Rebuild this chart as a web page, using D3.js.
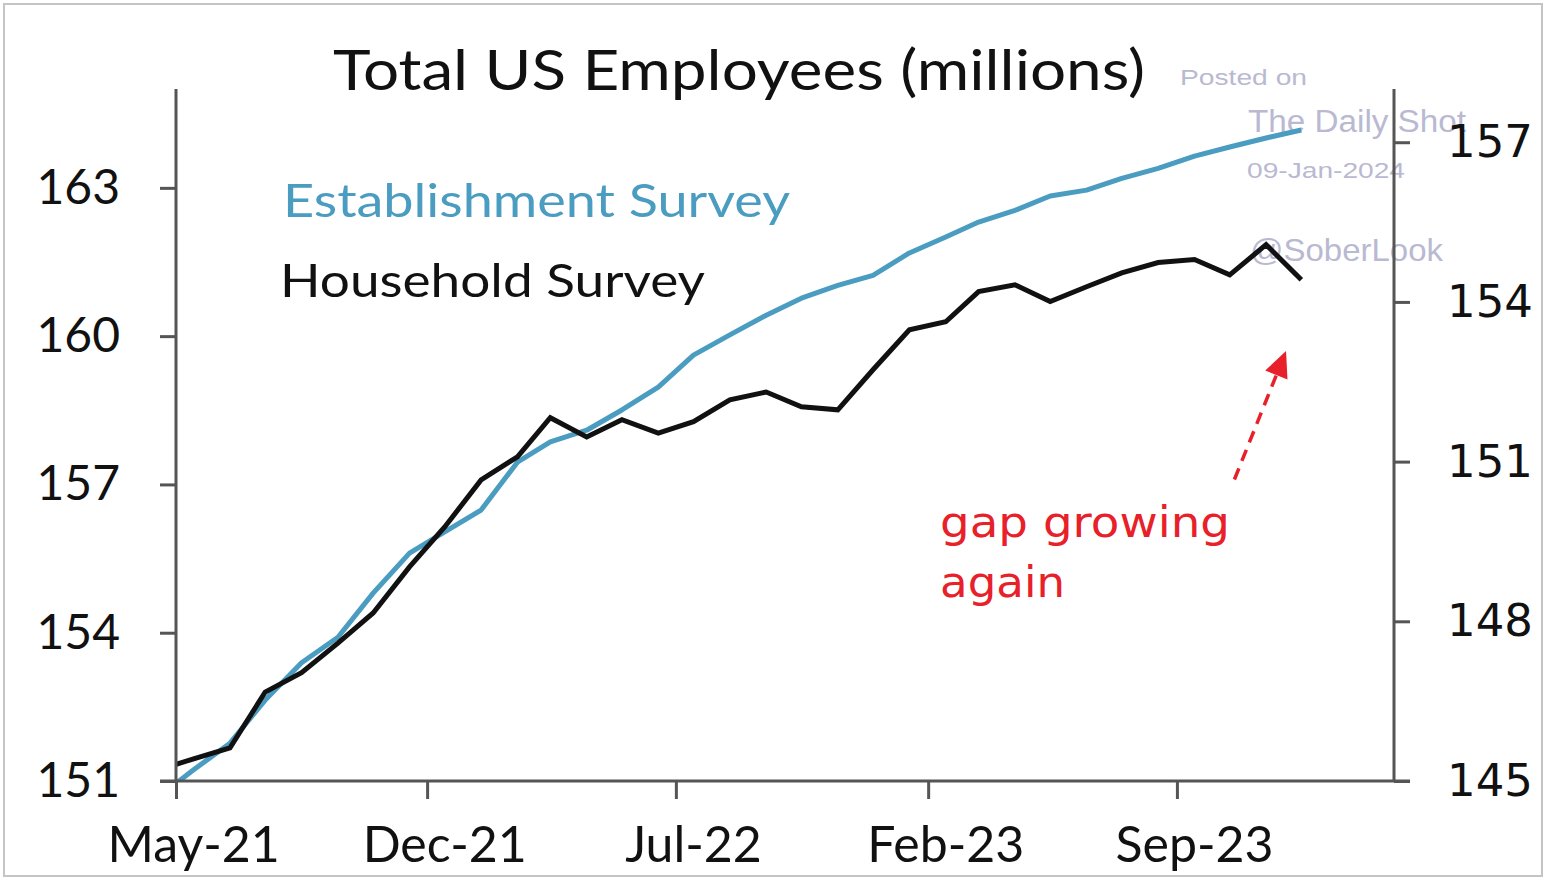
<!DOCTYPE html>
<html>
<head>
<meta charset="utf-8">
<script src="https://cdn.jsdelivr.net/npm/d3@7"></script>
<style>
  html, body { margin: 0; padding: 0; background: #fff; }
  svg { display: block; }
</style>
</head>
<body>
<svg id="chart" width="1546" height="880"></svg>
<script>
// ---------------- data ----------------
const months = [
  "2021-04","2021-05","2021-06","2021-07","2021-08","2021-09","2021-10","2021-11","2021-12",
  "2022-01","2022-02","2022-03","2022-04","2022-05","2022-06","2022-07","2022-08","2022-09",
  "2022-10","2022-11","2022-12","2023-01","2023-02","2023-03","2023-04","2023-05","2023-06",
  "2023-07","2023-08","2023-09","2023-10","2023-11","2023-12"
];
// Household survey (left axis, millions)
const household = [
  151.22,151.45,151.67,152.80,153.19,153.79,154.40,155.33,156.14,
  157.09,157.56,158.35,157.96,158.31,158.04,158.27,158.71,158.87,
  158.57,158.51,159.32,160.13,160.29,160.90,161.04,160.70,161.00,
  161.28,161.49,161.55,161.24,161.85,161.14
];
// Establishment survey (right axis, millions)
const establishment = [
  144.70,145.21,145.71,146.52,147.22,147.70,148.53,149.28,149.68,
  150.09,150.99,151.37,151.59,151.97,152.40,153.00,153.38,153.75,
  154.07,154.31,154.50,154.92,155.22,155.50,155.72,155.99,156.10,
  156.32,156.51,156.74,156.91,157.08,157.23
];
const leftTicks = [151, 154, 157, 160, 163];
const rightTicks = [145, 148, 151, 154, 157];
const xTickMonths = ["2021-05", "2021-12", "2022-07", "2023-02", "2023-09"];
const xTickLabels = ["May-21", "Dec-21", "Jul-22", "Feb-23", "Sep-23"];

// ---------------- layout ----------------
const svg = d3.select("#chart");
const L = 176, R = 1394, T = 89, B = 781;
const parseM = d3.timeParse("%Y-%m");
const midMonth = m => d3.timeDay.offset(parseM(m), 15);

const x = d3.scaleTime()
  .domain([parseM("2021-05"), new Date(2024, 2, 4)])
  .range([L, R]);
const yL = d3.scaleLinear().domain([151, 165]).range([B, T]);
const yR = d3.scaleLinear().domain([145, 158]).range([B, T]);

const axisColor = "#555";
const blue = "#4a9cc0";
const red = "#e8202a";
const wm = "#b9b9d2";

// outer frame
svg.append("rect").attr("x", 4).attr("y", 4).attr("width", 1538).attr("height", 872)
  .attr("fill", "none").attr("stroke", "#c4c4c4").attr("stroke-width", 2);

// clip
svg.append("clipPath").attr("id", "plotclip")
  .append("rect").attr("x", L).attr("y", T).attr("width", R - L).attr("height", B - T);

// watermark
const wmg = svg.append("g").attr("font-family", "Liberation Sans, Arial, sans-serif").attr("fill", wm);
wmg.append("text").attr("x", 1180).attr("y", 85).attr("font-size", 22).text("Posted on")
  .attr("textLength", 127).attr("lengthAdjust", "spacingAndGlyphs");
wmg.append("text").attr("x", 1248).attr("y", 132).attr("font-size", 31).text("The Daily Shot")
  .attr("textLength", 218).attr("lengthAdjust", "spacingAndGlyphs");
wmg.append("text").attr("x", 1247).attr("y", 178).attr("font-size", 22).text("09-Jan-2024")
  .attr("textLength", 158).attr("lengthAdjust", "spacingAndGlyphs");
wmg.append("text").attr("x", 1250).attr("y", 261).attr("font-size", 32).text("@SoberLook")
  .attr("textLength", 193).attr("lengthAdjust", "spacingAndGlyphs");

// lines
const lineL = d3.line().x((d, i) => x(midMonth(months[i]))).y(d => yL(d));
const lineR = d3.line().x((d, i) => x(midMonth(months[i]))).y(d => yR(d));
const lines = svg.append("g").attr("clip-path", "url(#plotclip)");
lines.append("path").datum(establishment).attr("d", lineR)
  .attr("fill", "none").attr("stroke", blue).attr("stroke-width", 5)
  .attr("stroke-linejoin", "round");
lines.append("path").datum(household).attr("d", lineL)
  .attr("fill", "none").attr("stroke", "#111").attr("stroke-width", 5)
  .attr("stroke-linejoin", "miter");

// axes
const gL = svg.append("g").attr("transform", `translate(${L},0)`)
  .call(d3.axisLeft(yL).tickValues(leftTicks).tickSize(16).tickPadding(40).tickFormat(d3.format("d")));
const gR = svg.append("g").attr("transform", `translate(${R},0)`)
  .call(d3.axisRight(yR).tickValues(rightTicks).tickSize(16).tickPadding(37).tickFormat(d3.format("d")));
const gX = svg.append("g").attr("transform", `translate(0,${B})`)
  .call(d3.axisBottom(x).tickValues(xTickMonths.map(parseM)).tickSize(18).tickFormat(""));

[gL, gR, gX].forEach(g => {
  g.select(".domain").remove();
  g.selectAll(".tick line").attr("stroke", axisColor).attr("stroke-width", 3);
});
gL.selectAll(".tick text").attr("font-family", "Lato, sans-serif").attr("font-size", 48).attr("fill", "#111");
gR.selectAll(".tick text").attr("font-family", "DejaVu Sans, sans-serif").attr("font-size", 45).attr("fill", "#111");

// axis lines
svg.append("line").attr("x1", L).attr("x2", L).attr("y1", T).attr("y2", B + 2)
  .attr("stroke", axisColor).attr("stroke-width", 3);
svg.append("line").attr("x1", R).attr("x2", R).attr("y1", T).attr("y2", B)
  .attr("stroke", axisColor).attr("stroke-width", 3);
svg.append("line").attr("x1", L - 16).attr("x2", R + 16).attr("y1", B).attr("y2", B)
  .attr("stroke", axisColor).attr("stroke-width", 3);

// x labels (centered mid-month)
svg.append("g").selectAll("text").data(xTickMonths).join("text")
  .attr("x", m => x(midMonth(m)))
  .attr("y", 862)
  .attr("text-anchor", "middle")
  .attr("font-family", "Lato, sans-serif").attr("font-size", 50).attr("fill", "#111")
  .text((m, i) => xTickLabels[i]);

// title
svg.append("text").attr("x", 333).attr("y", 90)
  .attr("font-family", "Lato, sans-serif").attr("font-size", 56).attr("fill", "#111")
  .attr("textLength", 812).attr("lengthAdjust", "spacingAndGlyphs")
  .text("Total US Employees (millions)");

// legend labels
svg.append("text").attr("x", 283).attr("y", 217)
  .attr("font-family", "Lato, sans-serif").attr("font-size", 47).attr("fill", blue)
  .attr("textLength", 507).attr("lengthAdjust", "spacingAndGlyphs")
  .text("Establishment Survey");
svg.append("text").attr("x", 280).attr("y", 297)
  .attr("font-family", "Lato, sans-serif").attr("font-size", 47).attr("fill", "#111")
  .attr("textLength", 425).attr("lengthAdjust", "spacingAndGlyphs")
  .text("Household Survey");

// annotation
const ann = svg.append("g").attr("font-family", "DejaVu Sans, sans-serif").attr("fill", red).attr("font-size", 42);
ann.append("text").attr("x", 940).attr("y", 537).text("gap growing")
  .attr("textLength", 290).attr("lengthAdjust", "spacingAndGlyphs");
ann.append("text").attr("x", 940).attr("y", 597).text("again")
  .attr("textLength", 125).attr("lengthAdjust", "spacingAndGlyphs");

// dashed arrow anchored to the axes scales
const a0 = [x(new Date(2023, 9, 20)), yL(157.1)];
const a1 = [x(new Date(2023, 11, 3)), yL(159.7)];
const dx = a1[0] - a0[0], dy = a1[1] - a0[1];
const len = Math.hypot(dx, dy), ux = dx / len, uy = dy / len;
const headLen = 26, headW = 12;
const bx = a1[0] - ux * headLen, by = a1[1] - uy * headLen;
svg.append("line").attr("x1", a0[0]).attr("y1", a0[1]).attr("x2", bx).attr("y2", by)
  .attr("stroke", red).attr("stroke-width", 3.5).attr("stroke-dasharray", "12,8");
svg.append("polygon")
  .attr("points", [
    [a1[0], a1[1]],
    [bx - uy * headW, by + ux * headW],
    [bx + uy * headW, by - ux * headW]
  ].map(p => p.join(",")).join(" "))
  .attr("fill", red);
</script>
</body>
</html>
